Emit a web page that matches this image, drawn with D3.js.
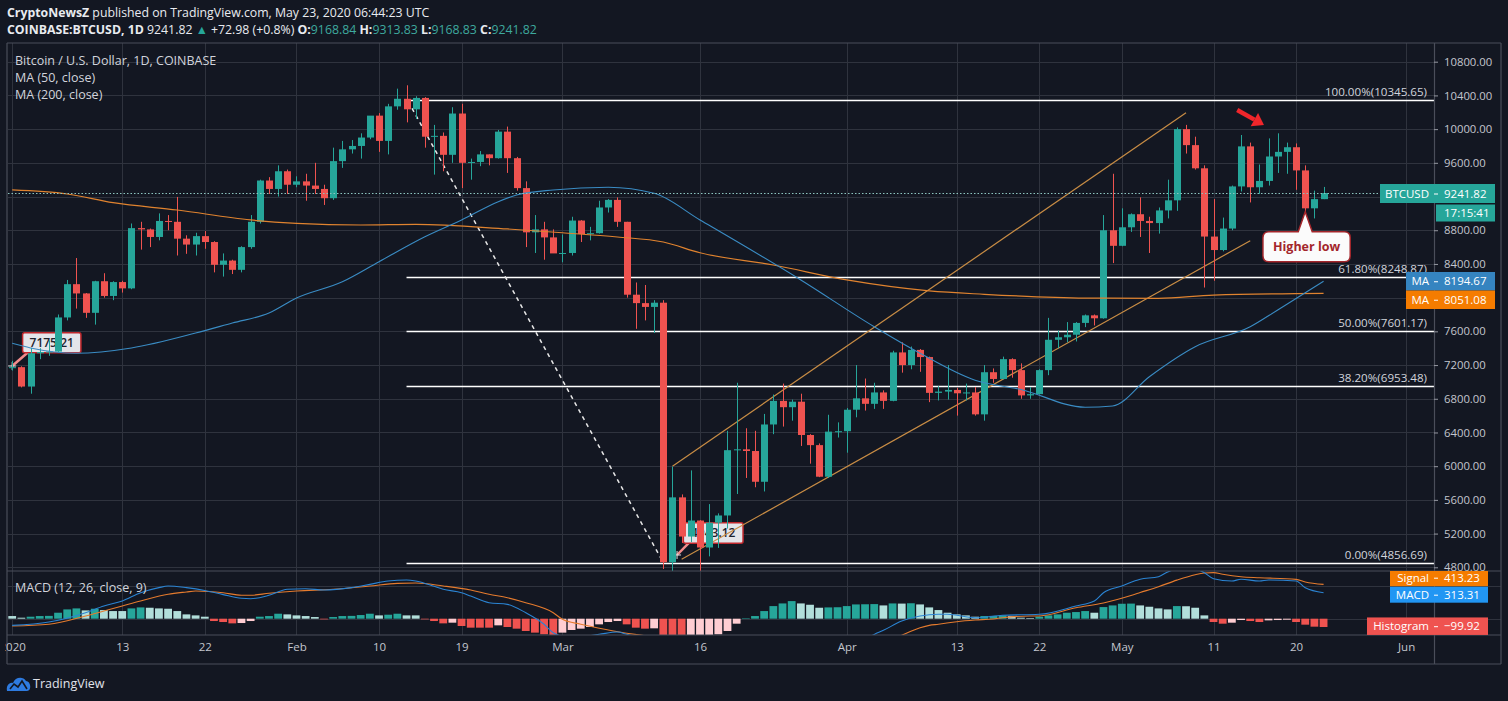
<!DOCTYPE html>
<html><head><meta charset="utf-8"><title>BTCUSD</title>
<script src="https://cdn.jsdelivr.net/npm/d3@7/dist/d3.min.js"></script>
<style>
html,body{margin:0;padding:0;background:#131722;}
svg{display:block;font-family:'Open Sans','Noto Sans',sans-serif;}
</style></head><body>
<svg id="chart" width="1508" height="701"></svg>
<script>
// ================= DATA =================
const startDay = "2020-01-01";
// daily candles [open, high, low, close], one per day from startDay
const candles = [
[7165,7250,7135,7175],[7175,7185,6935,6945],[6945,7405,6860,7340],[7340,7400,7270,7355],[7355,7495,7310,7360],
[7360,7800,7350,7765],[7765,8210,7730,8160],[8160,8470,7870,8050],[8050,8055,7760,7820],[7820,8200,7680,8195],
[8195,8290,8000,8020],[8020,8195,7970,8185],[8185,8200,8060,8110],[8110,8880,8100,8825],[8825,8900,8570,8810],
[8810,8820,8600,8720],[8720,9000,8680,8910],[8910,8980,8800,8900],[8900,9195,8500,8700],[8700,8740,8520,8630],
[8630,8770,8500,8730],[8730,8790,8580,8660],[8660,8670,8300,8390],[8390,8525,8250,8440],[8440,8450,8280,8330],
[8330,8610,8300,8600],[8600,8980,8580,8900],[8900,9400,8880,9390],[9390,9430,9230,9290],[9290,9570,9200,9500],
[9500,9520,9230,9340],[9340,9440,9310,9380],[9380,9470,9150,9330],[9330,9600,9230,9290],[9290,9340,9100,9180],
[9180,9780,9160,9620],[9620,9860,9540,9760],[9760,9870,9710,9800],[9800,9950,9650,9900],[9900,10150,9880,10160],
[10160,10190,9730,9860],[9860,10300,9700,10270],[10270,10480,10230,10360],[10360,10520,10080,10235],[10235,10390,10120,10370],
[10370,10380,9780,9910],[9910,10050,9460,9920],[9920,9960,9500,9695],[9695,10260,9600,10185],[10185,10300,9300,9600],
[9600,9650,9400,9610],[9610,9740,9560,9700],[9700,9700,9570,9655],[9655,9990,9650,9970],[9970,10030,9480,9655],
[9655,9670,9270,9300],[9300,9380,8600,8775],[8775,8980,8530,8810],[8810,8900,8450,8715],[8715,8810,8530,8525],
[8525,8750,8420,8530],[8530,8960,8500,8915],[8915,8920,8660,8755],[8755,8840,8680,8765],[8765,9150,8760,9070],
[9070,9170,9010,9160],[9160,9190,8840,8900],[8900,8900,8000,8035],[8035,8180,7630,7935],[7935,8150,7730,7890],
[7890,7970,7580,7940],[7940,7970,4780,4860],[4860,5995,3860,5630],[5630,5665,5090,5165],[5165,5950,5100,5355],
[5355,5360,4440,5035],[5035,5550,4930,5330],[5330,5440,5030,5415],[5415,6420,5260,6190],[6190,6990,5670,6200],
[6200,6450,5860,6180],[6180,6420,5750,5815],[5815,6620,5700,6495],[6495,6850,6380,6775],[6775,6980,6470,6700],
[6700,6790,6540,6765],[6765,6860,6240,6370],[6370,6380,6030,6250],[6250,6270,5870,5875],[5875,6610,5860,6410],
[6410,6520,6340,6415],[6415,6690,6160,6670],[6670,7200,6580,6805],[6805,7040,6660,6740],[6740,6990,6680,6875],
[6875,6900,6680,6775],[6775,7370,6770,7350],[7350,7470,7110,7200],[7200,7420,7150,7380],[7380,7390,7120,7295],
[7295,7300,6760,6870],[6870,6950,6780,6885],[6885,7200,6790,6905],[6905,6930,6600,6865],[6865,6980,6780,6875],
[6875,6940,6600,6615],[6615,7200,6540,7115],[7115,7160,6990,7035],[7035,7300,7030,7270],[7270,7280,7050,7140],
[7140,7220,6800,6840],[6840,6940,6800,6855],[6855,7150,6850,7140],[7140,7760,7080,7500],[7500,7610,7400,7530],
[7530,7710,7470,7560],[7560,7710,7480,7700],[7700,7800,7650,7790],[7790,7800,7670,7755],[7755,8980,7750,8800],
[8800,9470,8410,8615],[8615,9060,8610,8835],[8835,9000,8780,8990],[8990,9190,8720,8910],[8910,8960,8530,8885],
[8885,9070,8760,9035],[9035,9400,8940,9155],[9155,10020,9030,10000],[10000,10050,9710,9810],[9810,9910,9520,9535],
[9535,9570,8120,8725],[8725,9170,8200,8565],[8565,8950,8550,8820],[8820,9330,8800,9320],[9320,9930,9260,9795],
[9795,9840,9130,9310],[9310,9580,9230,9385],[9385,9890,9330,9675],[9675,9950,9480,9730],[9730,9840,9470,9785],
[9785,9830,9280,9510],[9510,9570,8810,9060],[9060,9270,8940,9169],[9168.84,9313.83,9168.83,9241.82]
];
// moving averages
const ma50Knots = [["2020-01-01",7458],["2020-01-03",7403],["2020-01-08",7340],["2020-01-14",7403],["2020-01-21",7580],
["2020-01-25",7699],["2020-01-29",7818],["2020-02-01",7996],["2020-02-06",8189],["2020-02-10",8427],["2020-02-15",8723],
["2020-02-19",8922],["2020-02-23",9139],["2020-02-25",9218],["2020-02-29",9278],["2020-03-06",9310],["2020-03-11",9238],
["2020-03-16",8922],["2020-03-27",8210],["2020-04-04",7655],["2020-04-09",7340],["2020-04-15",7020],["2020-04-20",6910],
["2020-04-27",6700],["2020-04-30",6715],["2020-05-04",7062],["2020-05-09",7418],["2020-05-15",7655],["2020-05-18",7854],
["2020-05-23",8194.67]];
const ma200Knots = [["2020-01-01",9278],["2020-01-07",9230],["2020-01-12",9127],["2020-01-19",9040],["2020-01-27",8922],
["2020-02-01",8882],["2020-02-08",8862],["2020-02-14",8870],["2020-02-24",8815],["2020-03-01",8770],["2020-03-07",8720],
["2020-03-12",8660],["2020-03-16",8533],["2020-03-24",8387],["2020-04-01",8210],["2020-04-10",8080],["2020-04-16",8040],
["2020-04-27",7995],["2020-05-05",7992],["2020-05-11",8031],["2020-05-23",8051.08]];
// MACD histogram, one per day
const macdHist = [32,12,24,32,34,72,112,124,100,120,104,92,92,124,136,132,124,120,92,52,40,24,-28,-40,-56,-52,-28,24,32,60,
52,40,32,20,-8,20,32,34,44,60,40,48,60,40,40,-8,-28,-56,-48,-88,-108,-108,-108,-80,-100,-120,-148,-168,-188,-210,
-168,-136,-120,-100,-68,-40,-28,-68,-108,-120,-116,-250,-300,-320,-300,-280,-255,-188,-148,-60,6,32,92,152,184,212,
184,168,132,136,138,152,172,174,176,160,184,182,186,172,136,104,72,52,40,24,32,34,40,32,12,8,24,40,52,72,80,92,72,
140,160,180,182,160,144,124,112,152,150,132,40,-40,-60,-48,-16,-28,-40,-20,-16,-12,-40,-72,-96,-99.92];
const macdKnots = [["2020-01-01",-80],["2020-01-05",-40],["2020-01-09",72],["2020-01-11",153],["2020-01-13",213],["2020-01-15",313],
["2020-01-17",374],["2020-01-18",394],["2020-01-20",374],["2020-01-22",340],["2020-01-24",290],["2020-01-26",246],["2020-01-27",241],
["2020-01-29",282],["2020-01-31",354],["2020-02-02",361],["2020-02-04",346],["2020-02-07",374],["2020-02-09",414],["2020-02-11",454],
["2020-02-13",466],["2020-02-14",454],["2020-02-16",390],["2020-02-17",354],["2020-02-19",313],["2020-02-20",273],["2020-02-22",193],
["2020-02-24",173],["2020-02-26",72],["2020-02-28",-67],["2020-02-29",-169],["2020-03-02",-230],["2020-03-05",-188],["2020-03-07",-160],
["2020-03-08",-188],["2020-03-10",-260],["2020-03-13",-600],["2020-03-17",-850],["2020-03-21",-880],["2020-03-25",-750],
["2020-03-29",-600],["2020-04-01",-420],["2020-04-03",-250],["2020-04-04",-190],["2020-04-05",-140],["2020-04-07",-28],
["2020-04-09",33],["2020-04-11",53],["2020-04-12",53],["2020-04-15",12],["2020-04-18",41],["2020-04-22",53],["2020-04-26",153],
["2020-04-28",213],["2020-04-29",313],["2020-05-01",394],["2020-05-03",475],["2020-05-05",506],["2020-05-06",563],["2020-05-08",620],
["2020-05-10",554],["2020-05-11",482],["2020-05-13",454],["2020-05-14",475],["2020-05-16",454],["2020-05-17",466],["2020-05-20",454],
["2020-05-21",373],["2020-05-23",313.31]];
const signalKnots = [["2020-01-01",-88],["2020-01-05",-67],["2020-01-09",33],["2020-01-11",93],["2020-01-13",153],["2020-01-15",213],
["2020-01-18",294],["2020-01-20",322],["2020-01-21",334],["2020-01-24",313],["2020-01-26",282],["2020-01-27",282],["2020-01-29",306],
["2020-02-01",334],["2020-02-05",354],["2020-02-09",394],["2020-02-12",426],["2020-02-14",430],["2020-02-17",394],["2020-02-20",345],
["2020-02-22",294],["2020-02-24",253],["2020-02-26",193],["2020-02-29",72],["2020-03-01",-7],["2020-03-03",-67],["2020-03-06",-136],
["2020-03-08",-176],["2020-03-10",-205],["2020-03-13",-260],["2020-03-17",-420],["2020-03-21",-560],["2020-03-25",-600],
["2020-03-29",-540],["2020-04-02",-420],["2020-04-05",-300],["2020-04-07",-200],["2020-04-09",-110],["2020-04-10",-80],
["2020-04-11",-67],["2020-04-13",-36],["2020-04-15",-16],["2020-04-17",-3],["2020-04-18",12],["2020-04-21",33],["2020-04-22",33],
["2020-04-26",132],["2020-04-29",190],["2020-05-02",280],["2020-05-03",315],["2020-05-05",385],["2020-05-07",465],["2020-05-09",530],
["2020-05-10",550],["2020-05-11",555],["2020-05-12",535],["2020-05-14",506],["2020-05-16",494],["2020-05-20",474],["2020-05-21",442],
["2020-05-23",413.23]];
// axes
const tickDates = ["2020-01-01","2020-01-13","2020-01-22","2020-02-01","2020-02-10","2020-02-19","2020-03-01","2020-03-16",
"2020-04-01","2020-04-13","2020-04-22","2020-05-01","2020-05-11","2020-05-20","2020-06-01"];
const tickLabels = ["2020","13","22","Feb","10","19","Mar","16","Apr","13","22","May","11","20","Jun"];
const priceTicks = [4800,5200,5600,6000,6400,6800,7200,7600,8000,8400,8800,9200,9600,10000,10400,10800];
const macdTicks = [0,400];
// drawings
const fibLevels = [["100.00%",10345.65],["61.80%",8248.87],["50.00%",7601.17],["38.20%",6953.48],["0.00%",4856.69]];
const fibStartDay = "2020-02-13";
const channelUpper = [["2020-03-13",6000],["2020-05-08",10195]];
const channelLower = [["2020-03-14",4895],["2020-05-15",8676]];
const dashedTrend = [["2020-02-13T14:24",10247],["2020-03-12",4856.69]];
const redArrow = [["2020-05-13T14:00",10227],["2020-05-16T12:00",10049]];
const priceCallouts = [{text:"7175.21", at:["2020-01-01",7189]},{text:"4943.12", at:["2020-03-13T12:00",4946]}];
const noteCallout = {text:"Higher low", at:["2020-05-21",9020]};
const lastPrice = 9241.82, ma50Last = 8194.67, ma200Last = 8051.08;
const macdLast = 313.31, signalLast = 413.23, histLast = -99.92;

// ================= LAYOUT =================
const L=8, R=1434, T=43, MB=571, MACDB=635, AXB=664, RB=1501;
const parse = s => d3.isoParse(s.length===10 ? s+"T00:00:00Z" : s+":00Z");
const start = parse(startDay);
const dates = candles.map((d,i)=>d3.utcDay.offset(start,i));
const x = d3.scaleUtc().domain([d3.utcHour.offset(start,-10.2), d3.utcHour.offset(start,3721.2)]).range([L,R]);
const y = d3.scaleLinear().domain([4800,10800]).range([567.3,61.7]);
const yM = d3.scaleLinear().domain([0,400]).range([618.7,585.5]);

const UP="#26a69a", DN="#ef5350", GRID="#2f333e", BORDER="#4a4e5a", TXT="#d1d4dc";
const svg = d3.select("#chart");
svg.append("rect").attr("width",1508).attr("height",701).attr("fill","#131722");
const defs = svg.append("defs");
defs.append("clipPath").attr("id","cMain").append("rect").attr("x",L).attr("y",T).attr("width",R-L).attr("height",MB-T);
defs.append("clipPath").attr("id","cMacd").append("rect").attr("x",L).attr("y",MB).attr("width",R-L).attr("height",MACDB-MB);
defs.append("clipPath").attr("id","cAxis").append("rect").attr("x",5).attr("y",MACDB).attr("width",R-5).attr("height",AXB-MACDB);
defs.append("clipPath").attr("id","cPAxis").append("rect").attr("x",R).attr("y",T).attr("width",RB-R).attr("height",MB-T);
defs.append("clipPath").attr("id","cMAxis").append("rect").attr("x",R-120).attr("y",MB).attr("width",RB-R+120).attr("height",MACDB-MB);

// grid
const grid = svg.append("g");
grid.selectAll("line.v").data(tickDates).join("line")
  .attr("x1",d=>Math.round(x(parse(d)))+0.5).attr("x2",d=>Math.round(x(parse(d)))+0.5)
  .attr("y1",T).attr("y2",MACDB).attr("stroke",GRID);
grid.selectAll("line.h").data(priceTicks.filter(v=>y(v)>T && y(v)<MB)).join("line")
  .attr("x1",L).attr("x2",R).attr("y1",d=>Math.round(y(d))+0.5).attr("y2",d=>Math.round(y(d))+0.5).attr("stroke",GRID);
grid.selectAll("line.m").data(macdTicks).join("line")
  .attr("x1",L).attr("x2",RB).attr("y1",d=>Math.round(yM(d))+0.5).attr("y2",d=>Math.round(yM(d))+0.5).attr("stroke",GRID);

// ---------- main pane ----------
const main = svg.append("g").attr("clip-path","url(#cMain)");
const P = d => [x(parse(d[0])), y(d[1])];

// price callouts (under candles)
priceCallouts.forEach(c=>{
  const [px,py]=P(c.at);
  const off = c.text==="7175.21" ? {bx:10.4, by:-33.3, w:58.3, h:20} : {bx:6.3, by:-32.3, w:59.7, h:20.6};
  main.append("line").attr("x1",px).attr("y1",py).attr("x2",px+off.bx+6).attr("y2",py+off.by+off.h-1)
    .attr("stroke","#f28b8b").attr("stroke-width",2.5);
  main.append("rect").attr("x",px+off.bx).attr("y",py+off.by).attr("width",off.w).attr("height",off.h).attr("rx",2)
    .attr("fill","#e3e5ea").attr("stroke","#c0282d").attr("stroke-width",1.5);
  main.append("text").attr("x",px+off.bx+off.w/2).attr("y",py+off.by+off.h/2+4.2).attr("text-anchor","middle")
    .attr("font-size",12).attr("font-weight",600).attr("fill","#1e222d").text(c.text);
  main.append("path").attr("d",`M${px-4},${py}H${px+4}M${px},${py-4}V${py+4}`).attr("stroke","#e0e0e0").attr("stroke-width",1);
});

// fib lines
fibLevels.forEach(f=>{
  const yy = Math.round(y(f[1]))+0.5;
  main.append("line").attr("x1",x(parse(fibStartDay))).attr("x2",R).attr("y1",yy).attr("y2",yy)
    .attr("stroke","#ffffff").attr("stroke-width",1.5);
  main.append("text").attr("x",R-7).attr("y",yy-5).attr("text-anchor","end").attr("font-size",11.6)
    .attr("fill",TXT).text(`${f[0]}(${f[1].toFixed(2)})`);
});

// dashed trend line
main.append("line").attr("x1",P(dashedTrend[0])[0]).attr("y1",P(dashedTrend[0])[1])
  .attr("x2",P(dashedTrend[1])[0]).attr("y2",P(dashedTrend[1])[1])
  .attr("stroke","#e8e8e8").attr("stroke-width",1.5).attr("stroke-dasharray","4,4");

// channel lines
[channelUpper, channelLower].forEach(ch=>{
  main.append("line").attr("x1",P(ch[0])[0]).attr("y1",P(ch[0])[1]).attr("x2",P(ch[1])[0]).attr("y2",P(ch[1])[1])
    .attr("stroke","#c98d45").attr("stroke-width",1.2);
});

// candles
const cg = main.append("g");
candles.forEach((d,i)=>{
  const [o,h,l,c]=d, col = c>=o?UP:DN, cx=Math.round(x(dates[i]));
  cg.append("line").attr("x1",cx+0.5).attr("x2",cx+0.5).attr("y1",y(h)).attr("y2",y(l)).attr("stroke",col).attr("stroke-width",1);
  const top=y(Math.max(o,c)), bot=y(Math.min(o,c));
  cg.append("rect").attr("x",cx-3).attr("width",7).attr("y",top).attr("height",Math.max(1,bot-top)).attr("fill",col);
});

// moving averages
const knotLine = d3.line().x(d=>x(parse(d[0]))).y(d=>y(d[1])).curve(d3.curveMonotoneX);
main.append("path").attr("d",knotLine(ma200Knots)).attr("fill","none").attr("stroke","#e0832f").attr("stroke-width",1.2);
main.append("path").attr("d",knotLine(ma50Knots)).attr("fill","none").attr("stroke","#3a8cc4").attr("stroke-width",1.1);

// current price dotted line
main.append("line").attr("x1",L).attr("x2",R).attr("y1",Math.round(y(lastPrice))+0.5).attr("y2",Math.round(y(lastPrice))+0.5)
  .attr("stroke","#8cc5bf").attr("stroke-width",1).attr("stroke-dasharray","1.5,2");

// red arrow
{
  const [x0,y0]=P(redArrow[0]), [x1,y1]=P(redArrow[1]);
  const ang=Math.atan2(y1-y0,x1-x0), hl=11, hw=7.5;
  const bx=x1-hl*Math.cos(ang), by=y1-hl*Math.sin(ang);
  main.append("line").attr("x1",x0).attr("y1",y0).attr("x2",bx).attr("y2",by).attr("stroke","#f0262b").attr("stroke-width",4.5);
  main.append("path").attr("d",`M${x1},${y1}L${bx+hw*Math.sin(ang)},${by-hw*Math.cos(ang)}L${bx-hw*Math.sin(ang)},${by+hw*Math.cos(ang)}Z`)
    .attr("fill","#f0262b");
}
// Higher low note
{
  const [px,py]=P(noteCallout.at);
  const bx=px-42.3, by=py+20, w=87.3, h=30;
  main.append("path").attr("d",`M${bx+6},${by}H${px-7}L${px},${py}L${px+7},${by}H${bx+w-6}Q${bx+w},${by} ${bx+w},${by+6}V${by+h-6}Q${bx+w},${by+h} ${bx+w-6},${by+h}H${bx+6}Q${bx},${by+h} ${bx},${by+h-6}V${by+6}Q${bx},${by} ${bx+6},${by}Z`)
    .attr("fill","#fbfbfb").attr("stroke","#a3262b").attr("stroke-width",1.5);
  main.append("text").attr("x",bx+w/2).attr("y",by+h/2+4.5).attr("text-anchor","middle").attr("font-size",12.5)
    .attr("font-weight",700).attr("fill","#a3262b").text(noteCallout.text);
}

// legend
const leg = svg.append("g").attr("font-size",12.5).attr("fill",TXT);
leg.append("text").attr("x",15).attr("y",65).text("Bitcoin / U.S. Dollar, 1D, COINBASE");
leg.append("text").attr("x",15).attr("y",82).text("MA (50, close)");
leg.append("text").attr("x",15).attr("y",99).text("MA (200, close)");

// ---------- MACD pane ----------
const mp = svg.append("g").attr("clip-path","url(#cMacd)");
const hcol = (v,i)=>{ const p = i>0?macdHist[i-1]:v;
  return v>=0 ? (p<v ? "#26a69a" : "#b2dfdb") : (p<v ? "#ffcdd2" : "#ef5350"); };
mp.selectAll("rect.h").data(macdHist).join("rect")
  .attr("x",(d,i)=>x(dates[i])-3.9).attr("width",7.8)
  .attr("y",d=>Math.min(yM(d),yM(0))).attr("height",d=>Math.abs(yM(d)-yM(0)))
  .attr("fill",hcol);
const mLine = d3.line().x(d=>x(parse(d[0]))).y(d=>yM(d[1])).curve(d3.curveMonotoneX);
mp.append("path").attr("d",mLine(signalKnots)).attr("fill","none").attr("stroke","#e57b2e").attr("stroke-width",1.1);
mp.append("path").attr("d",mLine(macdKnots)).attr("fill","none").attr("stroke","#2b84d3").attr("stroke-width",1.1);
svg.append("text").attr("x",15).attr("y",592).attr("font-size",12.5).attr("fill",TXT).text("MACD (12, 26, close, 9)");

// ---------- borders ----------
const bd = svg.append("g").attr("stroke",BORDER).attr("stroke-width",1.2);
bd.append("line").attr("x1",L-1).attr("x2",RB).attr("y1",T).attr("y2",T);
bd.append("line").attr("x1",L-1).attr("x2",RB).attr("y1",MB).attr("y2",MB);
bd.append("line").attr("x1",L-1).attr("x2",RB).attr("y1",MACDB).attr("y2",MACDB);
bd.append("line").attr("x1",L-1).attr("x2",RB).attr("y1",AXB).attr("y2",AXB);
bd.append("line").attr("x1",L-1).attr("x2",L-1).attr("y1",T).attr("y2",AXB);
bd.append("line").attr("x1",R+0.5).attr("x2",R+0.5).attr("y1",T).attr("y2",AXB);
bd.append("line").attr("x1",RB).attr("x2",RB).attr("y1",T).attr("y2",AXB);

// ---------- right side tags (positions decide which axis labels they cover) ----------
const ly = y(lastPrice), m50y = y(ma50Last), m200y = Math.max(y(ma200Last), m50y+18.5);
const macdY = yM(macdLast)+2;
const tags = [
  {x0:1380,x1:1495,yc:ly+0.5,h:19,fill:"#26a69a",left:"BTCUSD",right:lastPrice.toFixed(2)},
  {x0:R+2,x1:1495,yc:ly+20,h:17,fill:"#26a69a",left:null,right:"17:15:41"},
  {x0:1406,x1:1495,yc:m50y,h:18.5,fill:"#3584c0",left:"MA",right:ma50Last.toFixed(2)},
  {x0:1406,x1:1495,yc:m200y,h:18.5,fill:"#f57c00",left:"MA",right:ma200Last.toFixed(2)},
  {x0:1390,x1:1488,yc:macdY,h:16,fill:"#2196f3",left:"MACD",right:macdLast.toFixed(2),clip:"url(#cMAxis)"},
  {x0:1390,x1:1488,yc:macdY-17,h:17,fill:"#f57c00",left:"Signal",right:signalLast.toFixed(2),clip:"url(#cMAxis)"},
  {x0:1367,x1:1488,yc:yM(histLast)-0.8,h:17.5,fill:"#ef5350",left:"Histogram",right:histLast.toFixed(2).replace("-","\u2212"),clip:"url(#cMAxis)"}
];
const covered = (yy, macdPane) => tags.some(t=>(!!t.clip===macdPane) && Math.abs(yy-t.yc) < t.h/2+5);

// ---------- axes ----------
const pa = svg.append("g").attr("clip-path","url(#cPAxis)").append("g").attr("transform",`translate(${R},0)`)
  .call(d3.axisRight(y).tickValues(priceTicks.filter(v=>!covered(y(v),false))).tickFormat(d=>d.toFixed(2)).tickSize(4).tickPadding(6));
pa.select(".domain").remove();
pa.selectAll("line").attr("stroke","#9598a1");
pa.selectAll("text").attr("fill","#c3c6ce").attr("font-size",11.3).attr("font-family","'Open Sans',sans-serif");

const ma = svg.append("g").attr("clip-path","url(#cMAxis)").append("g").attr("transform",`translate(${R},0)`)
  .call(d3.axisRight(yM).tickValues(macdTicks.filter(v=>!covered(yM(v),true))).tickFormat(d=>d.toFixed(2)).tickSize(4).tickPadding(6));
ma.select(".domain").remove();
ma.selectAll("line").attr("stroke","#9598a1");
ma.selectAll("text").attr("fill","#c3c6ce").attr("font-size",11.3).attr("font-family","'Open Sans',sans-serif");

const ta = svg.append("g").attr("clip-path","url(#cAxis)").append("g").attr("transform",`translate(0,${MACDB+4})`)
  .call(d3.axisBottom(x).tickValues(tickDates.map(parse)).tickFormat((d,i)=>tickLabels[i]).tickSize(0).tickPadding(4));
ta.select(".domain").remove();
ta.selectAll("text").attr("fill","#c3c6ce").attr("font-size",11.5).attr("font-family","'Open Sans',sans-serif");

tags.forEach(t=>{
  const g = svg.append("g"); if(t.clip) g.attr("clip-path",t.clip);
  g.append("rect").attr("x",t.x0).attr("y",t.yc-t.h/2).attr("width",t.x1-t.x0).attr("height",t.h).attr("fill",t.fill);
  if(t.left){
    g.append("text").attr("x",R-5).attr("y",t.yc+4).attr("text-anchor","end").attr("font-size",11.5).attr("fill","#fff").text(t.left);
    g.append("line").attr("x1",R).attr("x2",R+4).attr("y1",t.yc+0.5).attr("y2",t.yc+0.5).attr("stroke","#fff");
  }
  g.append("text").attr("x",R+10).attr("y",t.yc+4).attr("font-size",11.5).attr("fill","#fff").text(t.right);
});

// ---------- header ----------
const hd = svg.append("g").attr("font-size",12.3).attr("fill","#e9ebf0");
const h1 = hd.append("text").attr("x",7).attr("y",17);
h1.append("tspan").attr("font-weight",700).text("CryptoNewsZ");
h1.append("tspan").text(" published on TradingView.com, May 23, 2020 06:44:23 UTC");
const h2 = hd.append("text").attr("x",7).attr("y",34);
h2.append("tspan").attr("font-weight",700).text("COINBASE:BTCUSD, 1D");
h2.append("tspan").text("  9241.82 ");
h2.append("tspan").attr("fill","#26a69a").text("\u25B2");
h2.append("tspan").text(" +72.98 (+0.8%) ");
[["O:","9168.84"],["H:","9313.83"],["L:","9168.83"],["C:","9241.82"]].forEach((p,i)=>{
  h2.append("tspan").attr("font-weight",700).text((i?" ":"")+p[0]);
  h2.append("tspan").attr("fill","#3ea99f").text(p[1]);
});

// ---------- TradingView logo ----------
const lg = svg.append("g");
lg.append("path").attr("d","M7,691 C6,686 9,682 13,683 C15,677 23,676 26,681 C31,681 32,691 27,691 Z").attr("fill","#2e7be0");
lg.append("path").attr("d","M10,689 L14,684 L18,687 L22,681 L27,689").attr("fill","none").attr("stroke","#131722").attr("stroke-width",1.6);
lg.append("text").attr("x",33).attr("y",688).attr("font-size",12.5).attr("fill","#e0e3eb").text("TradingView");
</script>
</body></html>
